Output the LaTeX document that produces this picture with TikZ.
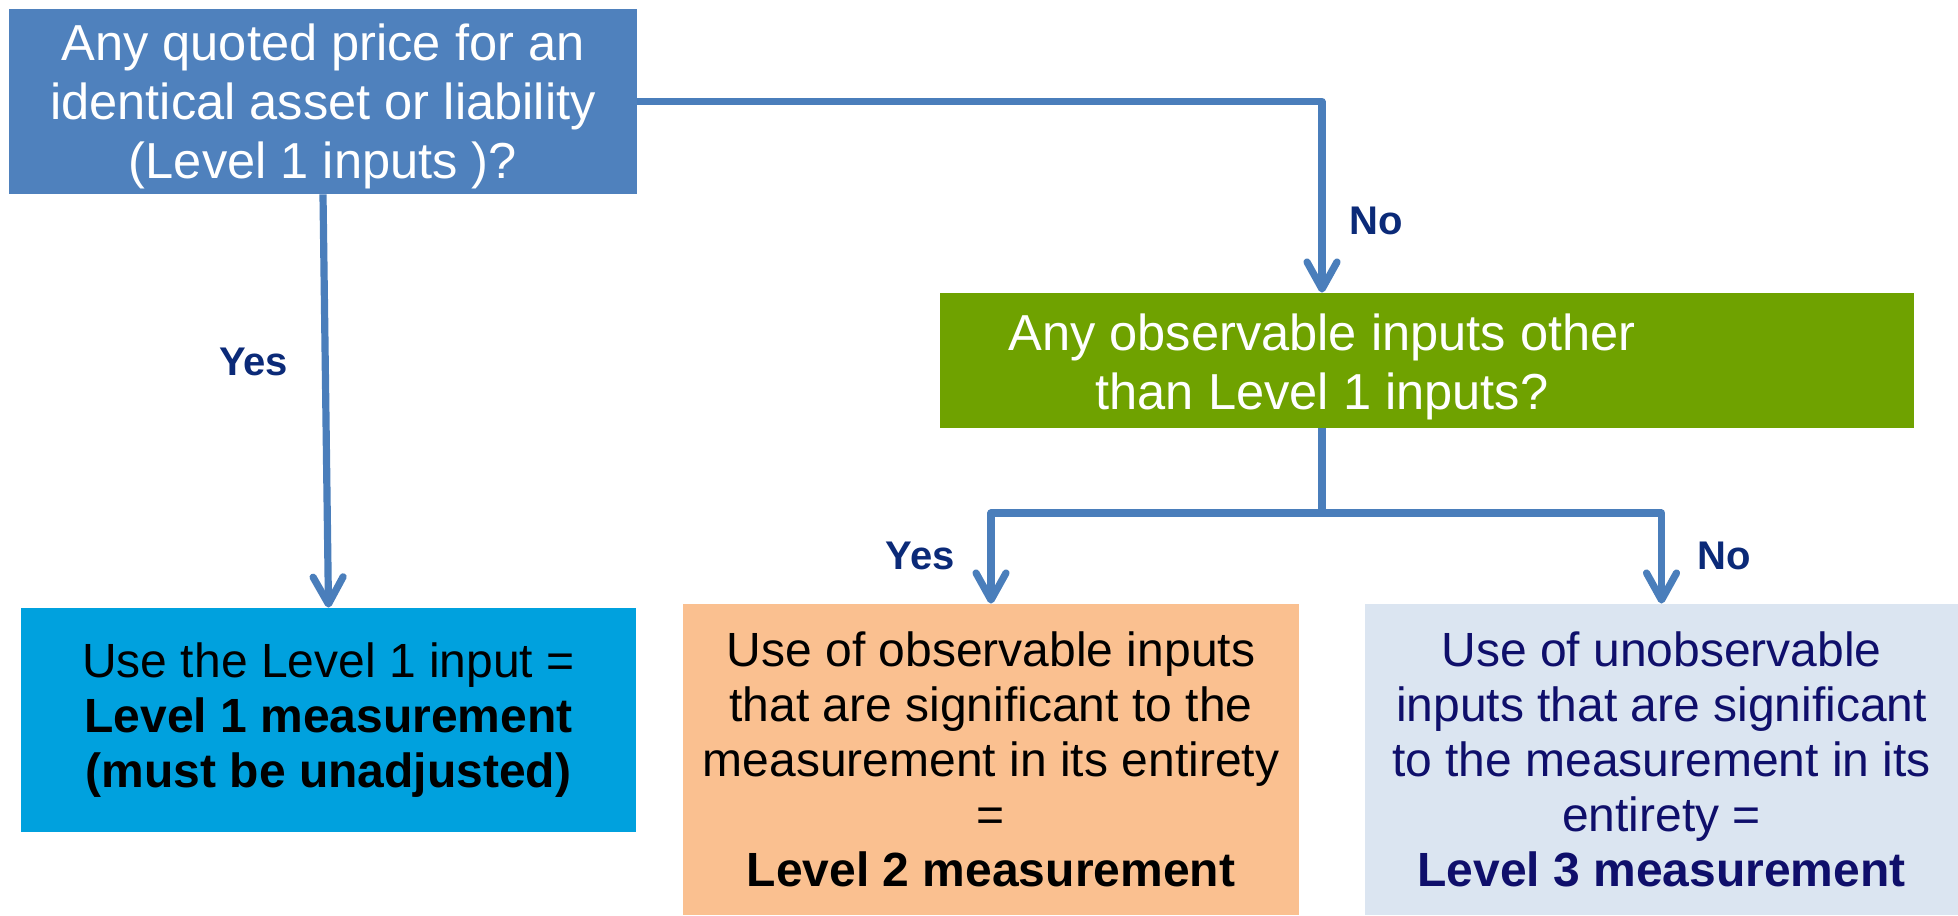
\documentclass[tikz,border=0pt]{standalone}
\usepackage{fontspec}
\setmainfont{Liberation Sans}
\usetikzlibrary{arrows.meta,calc}

\definecolor{qblue}{HTML}{4F81BD}
\definecolor{qgreen}{HTML}{6FA200}
\definecolor{lvlone}{HTML}{00A1DE}
\definecolor{lvltwo}{HTML}{FAC090}
\definecolor{lvlthree}{HTML}{DBE5F1}
\definecolor{wireblue}{HTML}{4A7EBB}
\definecolor{labelnavy}{HTML}{0B2A78}
\definecolor{textnavy}{HTML}{0F0F6B}

\begin{document}
\begin{tikzpicture}[x=0.5pt,y=-0.5pt,
  box/.style={rectangle, inner sep=0pt, align=center, anchor=center},
  plain/.style={inner sep=0pt, align=center, anchor=center},
  bigtext/.style={font=\fontsize{25.3}{29.5}\selectfont},
  smalltext/.style={font=\fontsize{24}{27.5}\selectfont},
  wire/.style={draw=wireblue, line width=3.6pt, line join=round},
  conn/.style={wire, -{Straight Barb[length=13.5pt,width=15pt,line cap=round,line join=round]}},
  lbl/.style={font=\fontsize{20}{24}\selectfont\bfseries, text=labelnavy, inner sep=0pt}
]
\useasboundingbox (0,0) rectangle (1958,915);

% decision boxes (fills), with their questions set on top
\node[box, fill=qblue, minimum width=314pt, minimum height=92.5pt] (quoted) at (323,101.5) {};
\node[plain, bigtext, text=white] (quotedtxt) at (323,106.5)
  {Any quoted price for an\\identical asset or liability\\(Level 1 inputs )?};
\node[box, fill=qgreen, minimum width=487pt, minimum height=67.5pt] (observ) at (1427,360.5) {};

% routing column and split bar
\coordinate (col) at (1322,0);
\coordinate (bar) at (0,513);

\node[plain, bigtext, text=white] (observtxt) at ($(col |- observ.center)+(0,6)$)
  {Any observable inputs other\\than Level 1 inputs?};

% outcome boxes
\node[box, smalltext, fill=lvlone, text=black, minimum width=307.5pt, minimum height=112pt]
  (lone) at (328.5,720) {Use the Level 1 input =\\\textbf{Level 1 measurement}\\\textbf{(must be unadjusted)}};
\node[box, smalltext, fill=lvltwo, text=black, minimum width=308pt, minimum height=155.5pt]
  (ltwo) at (991,759.5) {Use of observable inputs\\that are significant to the\\measurement in its entirety\\=\\\textbf{Level 2 measurement}};
\node[box, smalltext, fill=lvlthree, text=textnavy, minimum width=296.5pt, minimum height=155.5pt]
  (lthree) at (1661.5,759.5) {Use of unobservable\\inputs that are significant\\to the measurement in its\\entirety =\\\textbf{Level 3 measurement}};

% connectors
\draw[conn] (quoted.east) -| (col |- observ.north);
\draw[conn] (quoted.south) -- (lone.north);
\draw[wire] (col |- observ.south) -- (col |- bar);
\draw[conn] (col |- bar) -| (ltwo.north);
\draw[conn] (col |- bar) -| (lthree.north);

% branch labels
\node[lbl] (noA) at (1376,221) {No};
\node[lbl] (yesA) at (253.5,362) {Yes};
\node[lbl] (yesB) at (920,556) {Yes};
\node[lbl] (noB) at (1724,556) {No};
\end{tikzpicture}
\end{document}
